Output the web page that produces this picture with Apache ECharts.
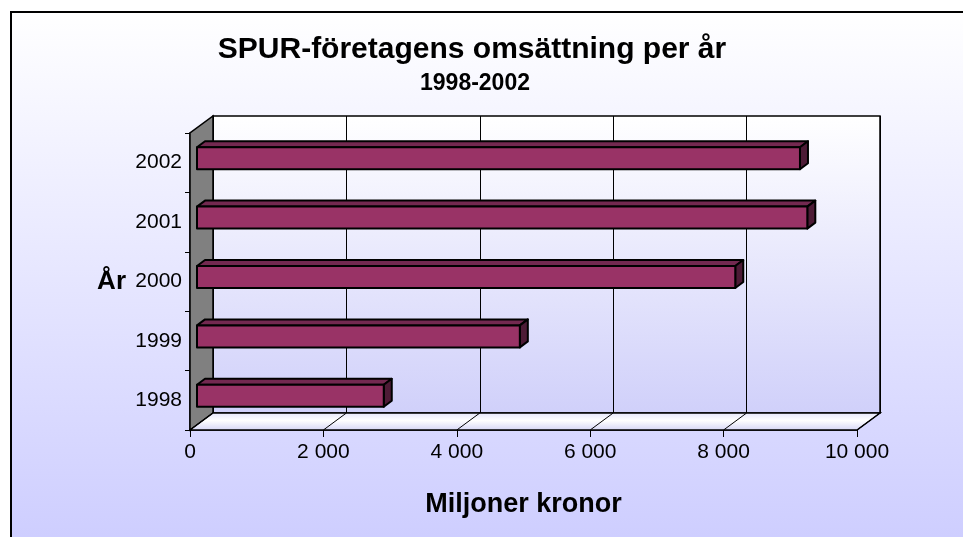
<!DOCTYPE html>
<html>
<head>
<meta charset="utf-8">
<script src="https://cdn.jsdelivr.net/npm/echarts@6/dist/echarts.min.js"></script>
<style>
  html, body { margin: 0; padding: 0; background: #ffffff; }
  #chart { width: 963px; height: 537px; }
</style>
</head>
<body>
<div id="chart"></div>
<script>
  // data
  const years = ['1998', '1999', '2000', '2001', '2002'];
  const turnover = [2800, 4840, 8070, 9150, 9040];
  const xTicks = [0, 2000, 4000, 6000, 8000, 10000];
  const xTickLabels = ['0', '2 000', '4 000', '6 000', '8 000', '10 000'];

  const FONT = '"Liberation Sans", Arial, sans-serif';
  // 3D depth of the plot box (front plane -> back wall)
  const DX = 23, DY = -17;
  const FRONT = { left: 190, top: 133, width: 667, height: 297 };

  const myChart = echarts.init(document.getElementById('chart'), null, { renderer: 'canvas' });

  // side wall + floor, built from the front grid rect
  function renderWalls(params, api) {
    const cs = params.coordSys;
    const L = cs.x, T = cs.y, R = cs.x + cs.width, B = cs.y + cs.height;
    const children = [
      {
        type: 'polygon',
        shape: { points: [[L, B], [L, T], [L + DX, T + DY], [L + DX, B + DY]] },
        style: { fill: '#808080', stroke: '#000', lineWidth: 1.5 }
      },
      {
        type: 'polygon',
        shape: { points: [[L, B], [L + DX, B + DY], [R + DX, B + DY], [R, B]] },
        style: {
          fill: new echarts.graphic.LinearGradient(0, 0, 0, 1, [
            { offset: 0, color: '#e4e4fa' },
            { offset: 0.45, color: '#ffffff' },
            { offset: 1, color: '#d4d4f6' }
          ]),
          stroke: '#000', lineWidth: 1.5
        }
      }
    ];
    xTicks.forEach(function (v) {
      const fx = api.coord([v, 0])[0];
      children.push({
        type: 'line',
        shape: { x1: fx, y1: B, x2: fx + DX, y2: B + DY },
        style: { stroke: '#000', lineWidth: 1 }
      });
    });
    return { type: 'group', children: children };
  }

  // 3D bar: front face, top face, right side face
  function renderBar(params, api) {
    const idx = api.value(1);
    const base = api.coord([0, idx]);
    const end = api.coord([api.value(0), idx]);
    const band = api.size([0, 1])[1];
    const h = band * 0.37;
    const ox = 7, oy = -4.5, bx = 8, by = -6;
    const x0 = base[0] + ox, x1 = end[0] + ox;
    const y0 = base[1] + oy - h / 2, y1 = base[1] + oy + h / 2;
    const line = { stroke: '#000', lineWidth: 2, lineJoin: 'round' };
    return {
      type: 'group',
      children: [
        { type: 'polygon', shape: { points: [[x0, y0], [x1, y0], [x1 + bx, y0 + by], [x0 + bx, y0 + by]] },
          style: Object.assign({ fill: '#732950' }, line) },
        { type: 'polygon', shape: { points: [[x1, y0], [x1 + bx, y0 + by], [x1 + bx, y1 + by], [x1, y1]] },
          style: Object.assign({ fill: '#4d1b36' }, line) },
        { type: 'rect', shape: { x: x0, y: y0, width: x1 - x0, height: y1 - y0 },
          style: Object.assign({ fill: '#993366' }, line) }
      ]
    };
  }

  const option = {
    animation: false,
    backgroundColor: '#ffffff',
    graphic: [
      {
        type: 'rect', z: -10,
        shape: { x: 11, y: 12, width: 1000, height: 545 },
        style: {
          fill: new echarts.graphic.LinearGradient(0, 0, 0, 1, [
            { offset: 0, color: '#ffffff' },
            { offset: 1, color: '#ccccff' }
          ]),
          stroke: '#000', lineWidth: 2
        }
      }
    ],
    title: [
      {
        text: 'SPUR-företagens omsättning per år',
        left: 472, top: 35, padding: 0, textAlign: 'center',
        textStyle: { fontFamily: FONT, fontSize: 30, fontWeight: 'bold', color: '#000' }
      },
      {
        text: '1998-2002',
        left: 475, top: 72, padding: 0, textAlign: 'center',
        textStyle: { fontFamily: FONT, fontSize: 23, fontWeight: 'bold', color: '#000' }
      }
    ],
    grid: [
      { // back wall
        left: FRONT.left + DX, top: FRONT.top + DY, width: FRONT.width, height: FRONT.height,
        show: true, borderColor: '#000', borderWidth: 1.5,
        backgroundColor: new echarts.graphic.LinearGradient(0, 0, 0, 1, [
          { offset: 0, color: '#ffffff' },
          { offset: 1, color: '#d0d0fa' }
        ])
      },
      { // front plane
        left: FRONT.left, top: FRONT.top, width: FRONT.width, height: FRONT.height
      }
    ],
    xAxis: [
      {
        gridIndex: 0, type: 'value', min: 0, max: 10000, interval: 2000,
        axisLine: { show: false }, axisTick: { show: false }, axisLabel: { show: false },
        splitLine: { show: true, lineStyle: { color: '#000', width: 1 } }
      },
      {
        gridIndex: 1, type: 'value', min: 0, max: 10000, interval: 2000,
        axisLine: { show: true, lineStyle: { color: '#000', width: 1.5 } },
        axisTick: { show: true, length: 7, lineStyle: { color: '#000', width: 1 } },
        axisLabel: {
          margin: 12, fontFamily: FONT, fontSize: 21, color: '#000',
          formatter: function (v) { const i = xTicks.indexOf(v); return i >= 0 ? xTickLabels[i] : ''; }
        },
        splitLine: { show: false },
        name: 'Miljoner kronor', nameLocation: 'middle', nameGap: 61,
        nameTextStyle: { fontFamily: FONT, fontSize: 27, fontWeight: 'bold', color: '#000' }
      }
    ],
    yAxis: [
      { gridIndex: 0, type: 'category', data: years, show: false },
      {
        gridIndex: 1, type: 'category', data: years,
        axisLine: { show: true, lineStyle: { color: '#000', width: 1.5 } },
        axisTick: { show: true, length: 5, lineStyle: { color: '#000', width: 1 } },
        axisLabel: { margin: 8, fontFamily: FONT, fontSize: 21, color: '#000' },
        name: 'År', nameLocation: 'middle', nameRotate: 0, nameGap: 64,
        nameTextStyle: { fontFamily: FONT, fontSize: 26, fontWeight: 'bold', color: '#000' }
      }
    ],
    series: [
      {
        type: 'custom', name: 'walls', xAxisIndex: 1, yAxisIndex: 1,
        silent: true, clip: false,
        data: [[0, 0]],
        renderItem: renderWalls
      },
      {
        type: 'custom', name: 'Omsättning', xAxisIndex: 1, yAxisIndex: 1,
        clip: false,
        encode: { x: 0, y: 1 },
        data: turnover.map(function (v, i) { return [v, i]; }),
        renderItem: renderBar
      }
    ]
  };
  myChart.setOption(option);
</script>
</body>
</html>
